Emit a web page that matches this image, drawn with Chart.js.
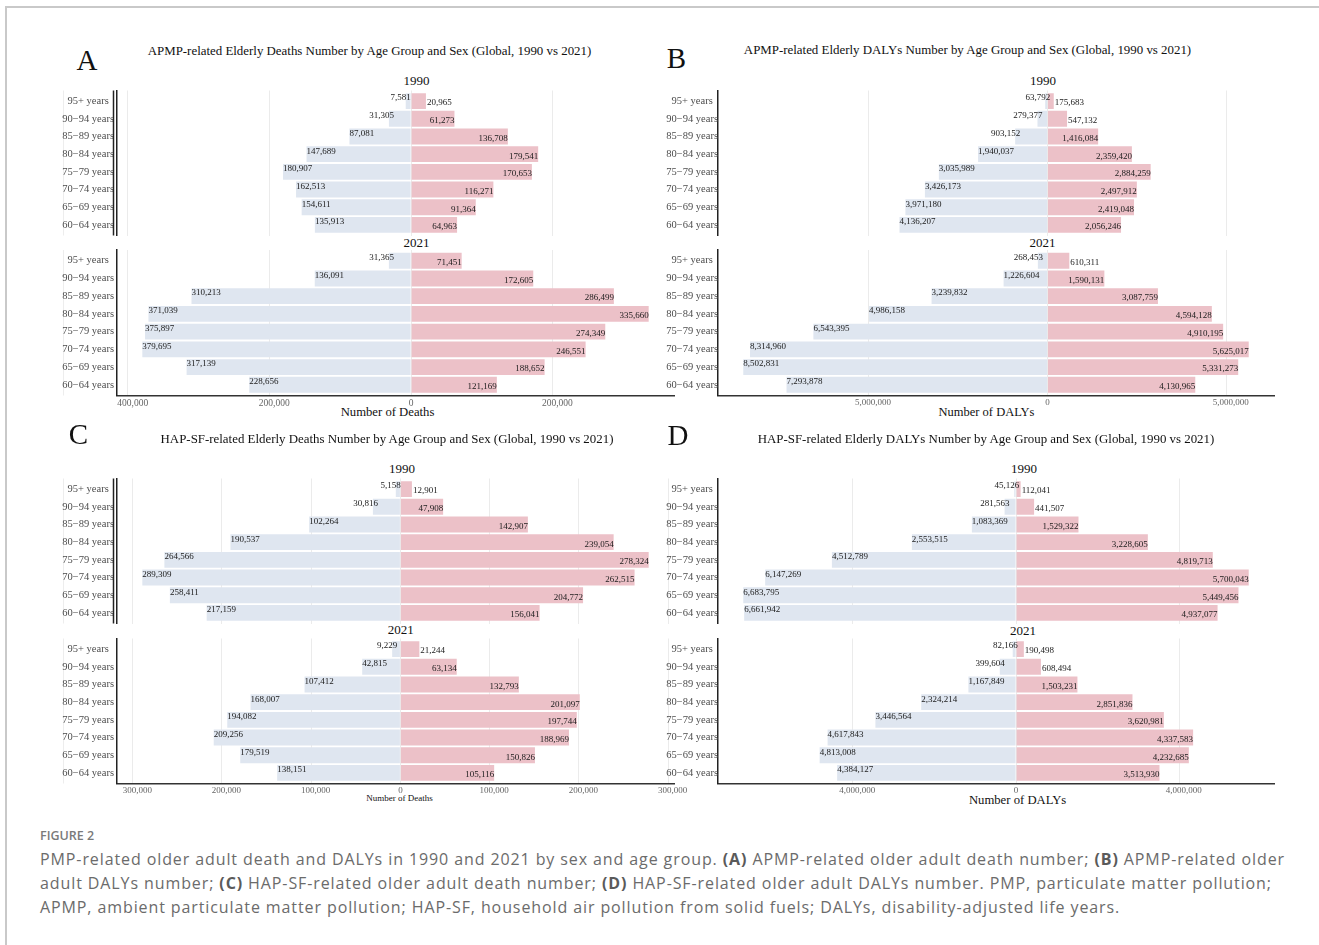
<!DOCTYPE html>
<html>
<head>
<meta charset="utf-8">
<script src="https://cdn.jsdelivr.net/npm/chart.js@4.4.1/dist/chart.umd.min.js"></script>
<style>
  html, body { margin: 0; padding: 0; background: #fff; }
  body { width: 1319px; height: 945px; position: relative; overflow: hidden; }
  .frame { position: absolute; left: 5px; top: 6px; width: 1340px; height: 960px;
           border-top: 2px solid #c9c9c9; border-left: 2px solid #c9c9c9; }
  canvas { position: absolute; }
  .t { position: absolute; white-space: nowrap; line-height: 1;
       font-family: "Liberation Serif", "Times New Roman", serif; color: #111;
       transform: translate(-50%, -50%); }
  .figlabel { position: absolute; left: 40px; top: 828px; font-family: "Open Sans", sans-serif;
              font-weight: 600; font-size: 12.5px; line-height: 16px; color: #7a7a7a; letter-spacing: 0; }
  .caption { position: absolute; left: 40px; top: 847px; font-family: "Open Sans", sans-serif;
             font-size: 16px; line-height: 24px; color: #6b6b6b; white-space: nowrap; }
  .caption b { font-weight: 700; color: #5a5a5a; }
</style>
</head>
<body>
<div class="frame"></div>
<div id="figure"></div>
<div class="figlabel">FIGURE 2</div>
<div class="caption" id="caption">
  <div class="line">PMP-related older adult death and DALYs in 1990 and 2021 by sex and age group. <b>(A)</b> APMP-related older adult death number; <b>(B)</b> APMP-related older</div>
  <div class="line">adult DALYs number; <b>(C)</b> HAP-SF-related older adult death number; <b>(D)</b> HAP-SF-related older adult DALYs number. PMP, particulate matter pollution;</div>
  <div class="line">APMP, ambient particulate matter pollution; HAP-SF, household air pollution from solid fuels; DALYs, disability-adjusted life years.</div>
</div>
<script>
// ---- data (age groups listed top to bottom) ----
const ageGroups = ['95+ years', '90\u221294 years', '85\u221289 years', '80\u221284 years',
                   '75\u221279 years', '70\u221274 years', '65\u221269 years', '60\u221264 years'];
const years = ['1990', '2021'];

// A: APMP-related deaths
const apmpDeathsMale1990   = [7581, 31305, 87081, 147689, 180907, 162513, 154611, 135913];
const apmpDeathsFemale1990 = [20965, 61273, 136708, 179541, 170653, 116271, 91364, 64963];
const apmpDeathsMale2021   = [31365, 136091, 310213, 371039, 375897, 379695, 317139, 228656];
const apmpDeathsFemale2021 = [71451, 172605, 286499, 335660, 274349, 246551, 188652, 121169];

// B: APMP-related DALYs
const apmpDalysMale1990   = [63792, 279377, 903152, 1940037, 3035989, 3426173, 3971180, 4136207];
const apmpDalysFemale1990 = [175683, 547132, 1416084, 2359420, 2884259, 2497912, 2419048, 2056246];
const apmpDalysMale2021   = [268453, 1226604, 3239832, 4986158, 6543395, 8314960, 8502831, 7293878];
const apmpDalysFemale2021 = [610311, 1590131, 3087759, 4594128, 4910195, 5625017, 5331273, 4130965];

// C: HAP-SF-related deaths
const hapDeathsMale1990   = [5158, 30816, 102264, 190537, 264566, 289309, 258411, 217159];
const hapDeathsFemale1990 = [12901, 47908, 142907, 239054, 278324, 262515, 204772, 156041];
const hapDeathsMale2021   = [9229, 42815, 107412, 168007, 194082, 209256, 179519, 138151];
const hapDeathsFemale2021 = [21244, 63134, 132793, 201097, 197744, 188969, 150826, 105116];

// D: HAP-SF-related DALYs
const hapDalysMale1990   = [45126, 281563, 1083369, 2553515, 4512789, 6147269, 6683795, 6661942];
const hapDalysFemale1990 = [112041, 441507, 1529322, 3228605, 4819713, 5700043, 5449456, 4937077];
const hapDalysMale2021   = [82166, 399604, 1167849, 2324214, 3446564, 4617843, 4813008, 4384127];
const hapDalysFemale2021 = [190498, 608494, 1503231, 2851836, 3620981, 4337583, 4232685, 3513930];

const panels = [
  { letter: 'A', title: 'APMP-related Elderly Deaths Number by Age Group and Sex (Global, 1990 vs 2021)',
    axisTitle: 'Number of Deaths', step: 200000,
    male: [apmpDeathsMale1990, apmpDeathsMale2021], female: [apmpDeathsFemale1990, apmpDeathsFemale2021] },
  { letter: 'B', title: 'APMP-related Elderly DALYs Number by Age Group and Sex (Global, 1990 vs 2021)',
    axisTitle: 'Number of DALYs', step: 5000000,
    male: [apmpDalysMale1990, apmpDalysMale2021], female: [apmpDalysFemale1990, apmpDalysFemale2021] },
  { letter: 'C', title: 'HAP-SF-related Elderly Deaths Number by Age Group and Sex (Global, 1990 vs 2021)',
    axisTitle: 'Number of Deaths', step: 100000,
    male: [hapDeathsMale1990, hapDeathsMale2021], female: [hapDeathsFemale1990, hapDeathsFemale2021] },
  { letter: 'D', title: 'HAP-SF-related Elderly DALYs Number by Age Group and Sex (Global, 1990 vs 2021)',
    axisTitle: 'Number of DALYs', step: 4000000,
    male: [hapDalysMale1990, hapDalysMale2021], female: [hapDalysFemale1990, hapDalysFemale2021] }
];

// ---- page layout ----
const layouts = [
  { plotLeft: 117, plotRight: 674, tops: [90.5, 250], bottoms: [235.5, 395.5], labelPad: 3, leftGuide: true,
    letter: [87, 59.5], title: [369.5, 51], yearPos: [[416.5, 79.6], [416.5, 241.7]],
    axisTitle: [387.5, 411.7, 12.7], tickSize: 9.5 },
  { plotLeft: 718, plotRight: 1274, tops: [90.5, 250], bottoms: [235.5, 395.5], labelPad: 0, leftGuide: false,
    letter: [676.5, 57.5], title: [967.5, 50], yearPos: [[1043, 80], [1042.6, 241.7]],
    axisTitle: [986.5, 411.7, 12.5], tickSize: 9 },
  { plotLeft: 117, plotRight: 674, tops: [478.5, 638.5], bottoms: [623.5, 783.5], labelPad: 3, leftGuide: true,
    letter: [78.5, 434], title: [387, 438.5], yearPos: [[402, 468.3], [400.7, 629.3]],
    axisTitle: [399.6, 798.3, 9], tickSize: 9 },
  { plotLeft: 718, plotRight: 1274, tops: [478.5, 638.5], bottoms: [623.5, 783.5], labelPad: 0, leftGuide: false,
    letter: [678, 435.3], title: [986, 439], yearPos: [[1024, 468.3], [1023, 630]],
    axisTitle: [1017.6, 800, 12.7], tickSize: 9 }
];

const MALE_COLOR = '#dfe6f0';
const FEMALE_COLOR = '#ecc1c8';
const SERIF = '"Liberation Serif", "Times New Roman", serif';
const Y_AXIS_WIDTH = 60;

const fig = document.getElementById('figure');
const fmt = v => Math.round(Math.abs(v)).toLocaleString('en-US');
// axis numbers carry a leading en-space pair, as in the printed axis
const tickText = v => (v === 0 ? '0' : '\u2002\u2002' + fmt(v));

function addText(text, x, y, size, extra) {
  const d = document.createElement('div');
  d.className = 't';
  d.textContent = text;
  d.style.left = x + 'px';
  d.style.top = y + 'px';
  d.style.fontSize = size + 'px';
  if (extra) Object.assign(d.style, extra);
  fig.appendChild(d);
}

// Value labels: each label sits at the outer end of its bar, reading inward;
// short bars push the label just outside the bar end.
const valueLabels = {
  id: 'valueLabels',
  afterDatasetsDraw(chart) {
    const ctx = chart.ctx;
    const zero = chart.scales.x.getPixelForValue(0);
    ctx.save();
    ctx.font = '9px ' + SERIF;
    ctx.fillStyle = '#1a1a1a';
    ctx.textBaseline = 'middle';
    ctx.textAlign = 'left';
    chart.data.datasets.forEach((ds, di) => {
      const meta = chart.getDatasetMeta(di);
      meta.data.forEach((bar, i) => {
        const text = fmt(ds.data[i].x);
        const w = ctx.measureText(text).width;
        const end = bar.x;
        let left, y;
        if (ds.side === 'male') {
          left = end;
          if (left + w > zero - 6) left = end + 5 - w;
          y = bar.y - 3;
        } else {
          left = end - w;
          if (left < zero + 6) left = end + 1;
          y = bar.y + 2;
        }
        ctx.fillText(text, left, y);
      });
    });
    ctx.restore();
  }
};

// Extra vertical rules beside the age labels
const sideRules = {
  id: 'sideRules',
  beforeDraw(chart, args, opts) {
    if (!opts.guide) return;
    const ctx = chart.ctx;
    const a = chart.chartArea;
    const gx = Math.round(a.left - 54) + 0.5;
    ctx.save();
    ctx.strokeStyle = '#ededed';
    ctx.lineWidth = 1;
    ctx.beginPath();
    ctx.moveTo(gx, a.top);
    ctx.lineTo(gx, a.bottom);
    ctx.stroke();
    ctx.restore();
  },
  afterDraw(chart, args, opts) {
    if (!opts.double) return;
    const ctx = chart.ctx;
    const a = chart.chartArea;
    ctx.save();
    ctx.strokeStyle = '#222';
    ctx.lineWidth = 1.5;
    ctx.beginPath();
    ctx.moveTo(a.left - 3.5, a.top);
    ctx.lineTo(a.left - 3.5, a.bottom);
    ctx.stroke();
    ctx.restore();
  }
};

function makeChart(p, L, yi) {
  const plot = { left: L.plotLeft, right: L.plotRight, top: L.tops[yi], bottom: L.bottoms[yi] };
  const isLast = yi === 1;
  const xh = isLast ? 16 : 0;
  const cLeft = plot.left - Y_AXIS_WIDTH;
  const cTop = Math.floor(plot.top) - 12;
  const cW = Math.ceil(plot.right) + 24 - cLeft;
  const cH = Math.ceil(plot.bottom + xh + 12 - cTop);
  const cv = document.createElement('canvas');
  cv.width = cW; cv.height = cH;
  cv.style.left = cLeft + 'px'; cv.style.top = cTop + 'px';
  cv.style.width = cW + 'px'; cv.style.height = cH + 'px';
  fig.appendChild(cv);

  const maleMax = Math.max(...p.male[0], ...p.male[1]);
  const femaleMax = Math.max(...p.female[0], ...p.female[1]);
  const lo = -maleMax, hi = femaleMax, pad = (hi - lo) * 0.05;
  const xMin = lo - pad, xMax = hi + pad;

  const males = p.male[yi], females = p.female[yi];

  return new Chart(cv, {
    type: 'bar',
    data: {
      datasets: [
        { label: 'Male', side: 'male', data: males.map((v, i) => ({ x: -v, y: i + 1 })),
          backgroundColor: MALE_COLOR, borderWidth: 0, barPercentage: 0.9, categoryPercentage: 1 },
        { label: 'Female', side: 'female', data: females.map((v, i) => ({ x: v, y: i + 1 })),
          backgroundColor: FEMALE_COLOR, borderWidth: 0, barPercentage: 0.9, categoryPercentage: 1 }
      ]
    },
    options: {
      indexAxis: 'y',
      responsive: false,
      maintainAspectRatio: false,
      animation: false,
      devicePixelRatio: 1,
      layout: { padding: {
        left: 0,
        top: plot.top - cTop,
        right: cW - (plot.right - cLeft),
        bottom: cH - xh - (plot.bottom - cTop)
      } },
      plugins: {
        legend: { display: false },
        tooltip: { enabled: false },
        sideRules: { guide: L.leftGuide, double: L.leftGuide && !isLast }
      },
      scales: {
        x: {
          type: 'linear', position: 'bottom', stacked: true, min: xMin, max: xMax, offset: false,
          afterBuildTicks: s => {
            const t = [];
            for (let v = Math.ceil(xMin / p.step) * p.step; v <= xMax; v += p.step) t.push({ value: v });
            s.ticks = t;
          },
          afterFit: s => { s.height = xh; },
          grid: { color: '#ebebeb', lineWidth: 1, drawTicks: false },
          border: { display: isLast, color: '#333', width: 1.6 },
          ticks: { display: isLast, padding: 2, maxRotation: 0, minRotation: 0, autoSkip: false,
                   color: '#666', font: { family: SERIF, size: L.tickSize },
                   callback: v => tickText(v) }
        },
        y: {
          type: 'linear', position: 'left', stacked: true, reverse: true, min: 0.4, max: 8.6, offset: false,
          afterBuildTicks: s => { s.ticks = ageGroups.map((_, i) => ({ value: i + 1 })); },
          afterFit: s => { s.width = Y_AXIS_WIDTH; },
          grid: { display: false, drawTicks: false, offset: false },
          border: { display: true, color: '#222', width: 1.5 },
          ticks: { autoSkip: false, crossAlign: 'center', padding: L.labelPad,
                   color: '#4d4d4d', font: { family: SERIF, size: 10.5 },
                   callback: v => ageGroups[v - 1] }
        }
      }
    },
    plugins: [valueLabels, sideRules]
  });
}

panels.forEach((p, k) => {
  const L = layouts[k];
  addText(p.letter, L.letter[0], L.letter[1], 29);
  addText(p.title, L.title[0], L.title[1], 12.9);
  years.forEach((yr, yi) => addText(yr, L.yearPos[yi][0], L.yearPos[yi][1], 13));
  addText(p.axisTitle, L.axisTitle[0], L.axisTitle[1], L.axisTitle[2]);
  makeChart(p, L, 0);
  makeChart(p, L, 1);
});

// Caption tracking: spread the first line across the text column
(function () {
  const lines = document.querySelectorAll('#caption .line');
  const first = lines[0];
  const probe = document.createElement('span');
  probe.innerHTML = first.innerHTML;
  probe.style.whiteSpace = 'nowrap';
  first.innerHTML = '';
  first.appendChild(probe);
  const w = probe.getBoundingClientRect().width;
  const n = probe.textContent.length;
  const ls = (1245 - w) / n;
  first.innerHTML = probe.innerHTML;
  document.getElementById('caption').style.letterSpacing = ls.toFixed(3) + 'px';
})();
</script>
</body>
</html>
